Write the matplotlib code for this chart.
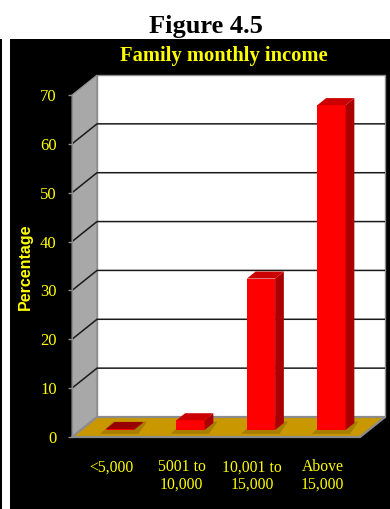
import matplotlib
matplotlib.use("Agg")
import matplotlib.pyplot as plt
from matplotlib.patches import Polygon, Rectangle

categories = ["<5,000", "5001 to\n10,000", "10,001 to\n15,000", "Above\n15,000"]
values = [0.2, 2.0, 31.0, 66.5]
yticks = [0, 10, 20, 30, 40, 50, 60, 70]

W, H = 390, 509
fig = plt.figure(figsize=(W / 100, H / 100), dpi=100)
fig.patch.set_facecolor("white")

# black panel and thin left rule
fig.patches.append(Rectangle((9.5 / W, 0), 1 - 9.5 / W, (H - 38.5) / H,
                             transform=fig.transFigure, facecolor="black",
                             edgecolor="none", zorder=-5))
fig.patches.append(Rectangle((0, 0), 2.2 / W, (H - 38.5) / H,
                             transform=fig.transFigure, facecolor="black",
                             edgecolor="none", zorder=-5))

# axes geometry
ax_left_px, ax_right_px = 72, 385
ax_bot_px, ax_top_px = 437, 75
ax = fig.add_axes([ax_left_px / W, (H - ax_bot_px) / H,
                   (ax_right_px - ax_left_px) / W, (ax_bot_px - ax_top_px) / H])
ax.set_facecolor("none")
ax.set_zorder(1)

px_per_cat = 70.5
px_per_unit = (437 - 95) / 70.0
xl = -(111.25 - 72) / px_per_cat
xr = xl + (ax_right_px - ax_left_px) / px_per_cat
ytop = (ax_bot_px - ax_top_px) / px_per_unit
ax.set_xlim(xl, xr)
ax.set_ylim(0, ytop)

DX = 25 / px_per_cat
DY = 20 / px_per_unit
ymax = yticks[-1]

gold = "#C99700"
wall_gray = "#A8A8A8"
edge_gray = "#8C8C8C"

# side wall
ax.add_patch(Polygon([(xl, 0), (xl + DX, DY), (xl + DX, ymax + DY), (xl, ymax)],
                     closed=True, facecolor=wall_gray, edgecolor=edge_gray,
                     lw=0.8, zorder=1, clip_on=False))
# back wall
ax.add_patch(Rectangle((xl + DX, DY), xr - xl - DX, ymax, facecolor="white",
                       edgecolor=edge_gray, lw=1.0, zorder=1, clip_on=False))
# gridlines
for v in yticks[1:-1]:
    ax.plot([xl, xl + DX, xr], [v, v + DY, v + DY], color="#1a1a1a", lw=1.1,
            zorder=2, clip_on=False, solid_capstyle="butt")
# floor
ax.add_patch(Polygon([(xl, 0), (xr - DX, 0), (xr, DY), (xl + DX, DY)],
                     closed=True, facecolor=gold, edgecolor=edge_gray,
                     lw=1.6, zorder=3, clip_on=False))

# bars
f0, f1 = 0.35, 0.70
bw = 0.40
red, side_red, top_red = "#FF0000", "#AA0000", "#CC0000"
for i, v in enumerate(values):
    xL = i - bw / 2 + f0 * DX
    xR = i + bw / 2 + f0 * DX
    yb = f0 * DY
    dx = (f1 - f0) * DX
    dy = (f1 - f0) * DY
    # shadow on floor
    ax.add_patch(Polygon([(xL - 0.08, yb - 0.8), (xR + dx * 0.5, yb - 0.8),
                          (xR + dx + 0.06, yb + dy + 0.3), (xL + dx - 0.02, yb + dy + 0.3)],
                         closed=True, facecolor="#6b4f00", alpha=0.35,
                         edgecolor="none", zorder=4))
    top = yb + v
    ax.add_patch(Rectangle((xL, yb), xR - xL, v, facecolor=red,
                           edgecolor="none", zorder=5))
    ax.add_patch(Polygon([(xR, yb), (xR + dx, yb + dy), (xR + dx, top + dy), (xR, top)],
                         closed=True, facecolor=side_red, edgecolor="none", zorder=5))
    ax.add_patch(Polygon([(xL, top), (xR, top), (xR + dx, top + dy), (xL + dx, top + dy)],
                         closed=True, facecolor=top_red if v > 1 else "#990000",
                         edgecolor="none", zorder=6))

# axes styling
for s in ["top", "right", "bottom"]:
    ax.spines[s].set_visible(False)
ax.spines["left"].set_color(edge_gray)
ax.spines["left"].set_bounds(0, ymax)
ax.spines["left"].set_zorder(7)
ax.set_yticks(yticks)
ax.set_yticklabels([str(t) for t in yticks], family="Liberation Serif",
                   fontsize=12, color="#FFFF00")
ax.tick_params(axis="y", colors=edge_gray, length=3, width=1, pad=8,
               labelcolor="#FFFF00")
ax.set_xticks(range(len(categories)))
ax.set_xticklabels(categories, family="Liberation Serif", fontsize=11.3,
                   color="#FFFF00", linespacing=1.1)
ax.tick_params(axis="x", length=0, pad=16, labelcolor="#FFFF00")

fig.text(25 / W, (H - 267) / H, "Percentage", rotation=90, ha="center",
         va="center", family="Liberation Sans", weight="bold",
         fontsize=11.5, color="#FFFF00")
fig.text(223.5 / W, (H - 61) / H, "Family monthly income", ha="center",
         va="baseline", family="Liberation Serif", weight="bold",
         fontsize=14.8, color="#FFFF00")
fig.text(206 / W, (H - 33) / H, "Figure 4.5", ha="center", va="baseline",
         family="Liberation Serif", weight="bold", fontsize=19, color="black")

fig.savefig("out.png", dpi=100, facecolor=fig.get_facecolor())
